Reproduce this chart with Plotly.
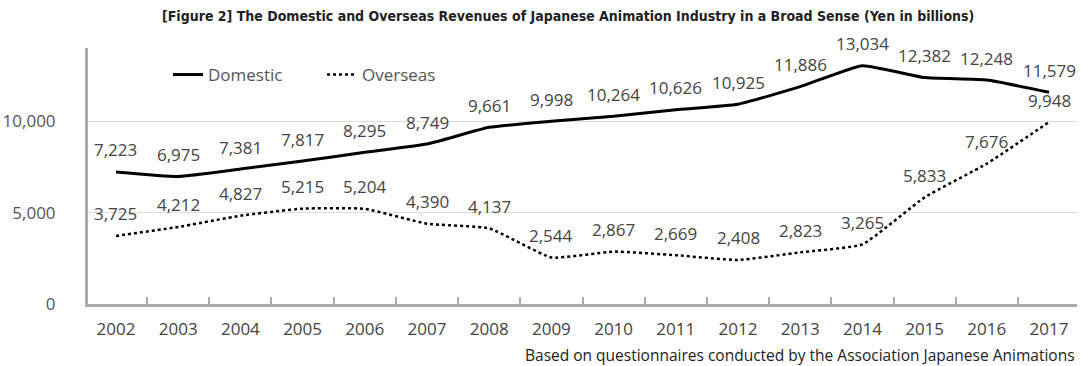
import plotly.graph_objects as go

years = ["2002", "2003", "2004", "2005", "2006", "2007", "2008", "2009",
         "2010", "2011", "2012", "2013", "2014", "2015", "2016", "2017"]
domestic = [7223, 6975, 7381, 7817, 8295, 8749, 9661, 9998,
            10264, 10626, 10925, 11886, 13034, 12382, 12248, 11579]
overseas = [3725, 4212, 4827, 5215, 5204, 4390, 4137, 2544,
            2867, 2669, 2408, 2823, 3265, 5833, 7676, 9948]
y_ticks = [0, 5000, 10000]
y_tick_labels = ["0", "5,000", "10,000"]

FONT = "Open Sans"
TXT = "#444444"
PL, PR, PT, PB = 88, 1077, 48, 304   # plot area in pixels
W, H = PR - PL, PB - PT

def px_x(px):
    return (px - PL) / W

def px_y(py):
    return (PB - py) / H

fig = go.Figure()
fig.add_trace(go.Scatter(x=years, y=domestic, name="Domestic", mode="lines",
                         legend="legend",
                         line=dict(color="black", width=3, shape="spline", smoothing=0.4)))
fig.add_trace(go.Scatter(x=years, y=overseas, name="Overseas", mode="lines",
                         legend="legend2",
                         line=dict(color="black", width=2.5, dash="dot", shape="spline", smoothing=0.4)))

for series in (domestic, overseas):
    for i, v in enumerate(series):
        fig.add_annotation(x=i, y=v, xref="x", yref="y", text=f"{v:,}",
                           showarrow=False, yshift=22,
                           font=dict(family=FONT, size=17, color=TXT))

fig.add_annotation(x=px_x(568), y=px_y(16), xref="paper", yref="paper",
                   xanchor="center", yanchor="middle",
                   text="<b>[Figure 2] The Domestic and Overseas Revenues of Japanese Animation Industry in a Broad Sense (Yen in billions)</b>",
                   showarrow=False,
                   font=dict(family="DejaVu Sans Condensed, Liberation Sans Narrow, Arial Narrow", size=14, color="#222"))

fig.add_annotation(x=1.0, y=px_y(355), xref="paper", yref="paper", xanchor="right", yanchor="middle",
                   text="Based on questionnaires conducted by the Association Japanese Animations",
                   showarrow=False,
                   font=dict(family=FONT, size=15.5, color="#222"))

legend_common = dict(orientation="h", yanchor="middle", xanchor="left",
                     font=dict(family=FONT, size=17, color="#555"),
                     bgcolor="rgba(0,0,0,0)")

fig.update_layout(
    width=1081, height=366,
    margin=dict(l=PL, r=1081 - PR, t=PT, b=366 - PB),
    plot_bgcolor="white", paper_bgcolor="white",
    showlegend=True,
    legend=dict(x=px_x(168), y=px_y(75), **legend_common),
    legend2=dict(x=px_x(322), y=px_y(75), **legend_common),
    xaxis=dict(type="category", range=[-0.45, 15.45],
               showline=True, linecolor="#aaaaaa", linewidth=3,
               ticks="inside", tickson="boundaries", ticklen=7, tickwidth=2, tickcolor="#aaaaaa",
               ticklabelstandoff=8,
               tickfont=dict(family=FONT, size=17, color=TXT), showgrid=False),
    yaxis=dict(range=[0, 14000], tickvals=y_ticks, ticktext=y_tick_labels,
               showline=True, linecolor="#aaaaaa", linewidth=3,
               showgrid=True, gridcolor="#dddddd", gridwidth=1,
               ticks="", ticklabelstandoff=26,
               tickfont=dict(family=FONT, size=17, color="#555"), zeroline=False),
)
fig.write_html("out.html")
